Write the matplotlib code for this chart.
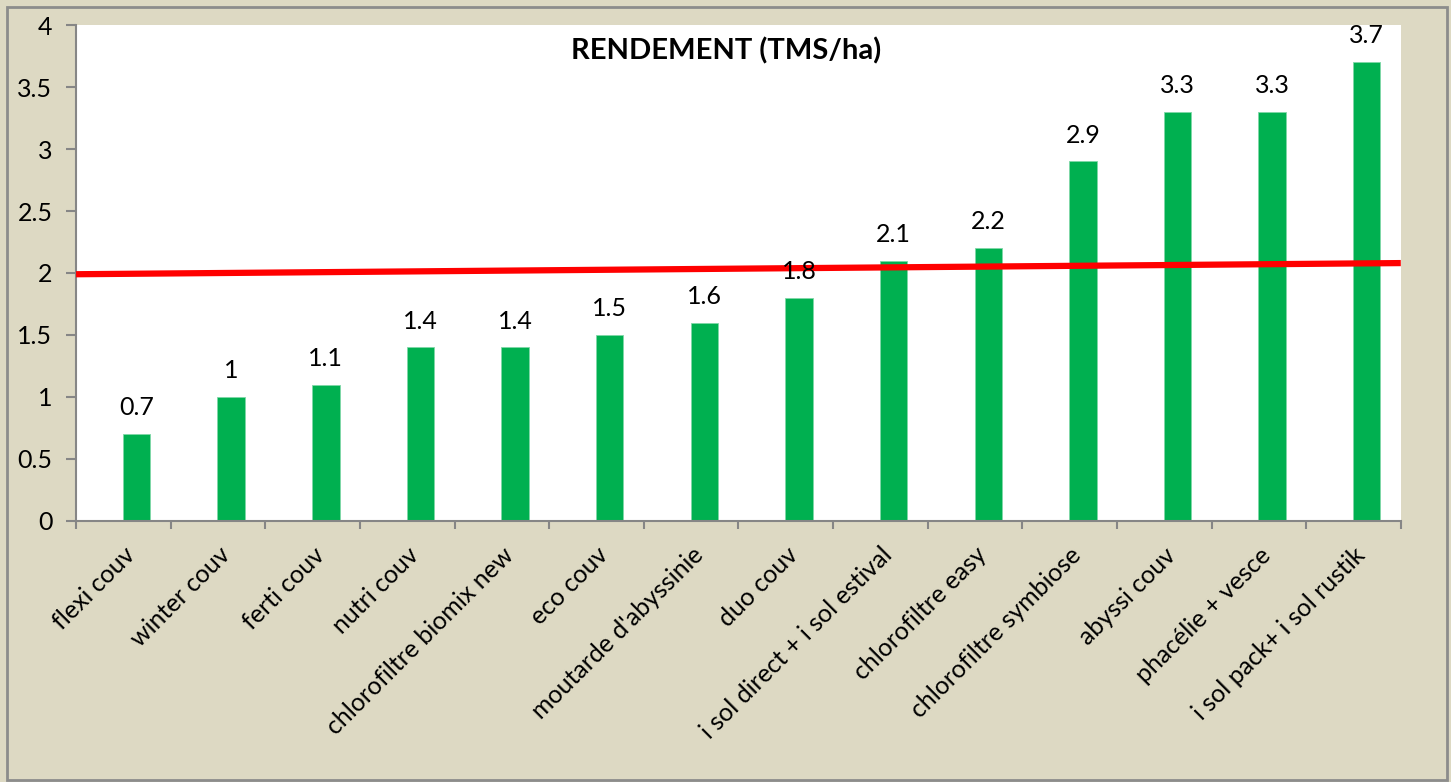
import numpy as np
import matplotlib.pyplot as plt
from matplotlib.patches import Rectangle

categories = ["flexi couv", "winter couv", "ferti couv", "nutri couv",
              "chlorofiltre biomix new", "eco couv", "moutarde d'abyssinie",
              "duo couv", "i sol direct + i sol estival", "chlorofiltre easy",
              "chlorofiltre symbiose", "abyssi couv", "phacélie + vesce",
              "i sol pack+ i sol rustik"]
rendement = [0.7, 1, 1.1, 1.4, 1.4, 1.5, 1.6, 1.8, 2.1, 2.2, 2.9, 3.3, 3.3, 3.7]
labels = ["0.7", "1", "1.1", "1.4", "1.4", "1.5", "1.6", "1.8", "2.1", "2.2",
          "2.9", "3.3", "3.3", "3.7"]
trend_ends = [1.99, 2.08]

plt.rcParams['font.family'] = ['Lato', 'DejaVu Sans']

beige = '#DDD9C3'
fs = 18
fig = plt.figure(figsize=(14.51, 7.82), dpi=100, facecolor=beige)
fig.patches.append(Rectangle((0.005, 0.003), 0.992, 0.988, transform=fig.transFigure,
                             fill=False, edgecolor='#8c8c8c', linewidth=2))
ax = fig.add_axes([0.0524, 0.3338, 0.913, 0.6342])
ax.set_facecolor('white')

n = len(categories)
x = np.arange(n)
# bars sit a bit right of the category centre (excel style)
ax.bar(x + 0.14, rendement, width=0.29, color='#00B050', edgecolor='#7fd8a8',
       linewidth=0.6, zorder=2)
for xi, v, t in zip(x + 0.14, rendement, labels):
    ax.text(xi, v + 0.12, t, ha='center', va='bottom', fontsize=fs, zorder=4)

ax.plot([-0.5, n - 0.5], trend_ends, color='#FF0000', linewidth=4.5, zorder=3,
        solid_capstyle='butt')

ax.set_xlim(-0.5, n - 0.5)
ax.set_ylim(0, 4)
ax.set_yticks(np.arange(0, 4.01, 0.5))
ax.set_yticklabels(["0", "0.5", "1", "1.5", "2", "2.5", "3", "3.5", "4"])
ax.set_xticks(x)
ax.set_xticklabels(categories, rotation=45, ha='right', rotation_mode='anchor')
ax.set_xticks(np.arange(-0.5, n, 1), minor=True)
ax.tick_params(axis='x', which='major', length=0, pad=16, labelsize=fs)
ax.tick_params(axis='x', which='minor', length=6, color='#868686', width=1.5)
ax.tick_params(axis='y', length=7, color='#868686', width=1.5, labelsize=fs, pad=10)

for side in ['top', 'right']:
    ax.spines[side].set_visible(False)
for side in ['left', 'bottom']:
    ax.spines[side].set_color('#868686')
    ax.spines[side].set_linewidth(1.5)

ax.text(0.491, 0.975, "RENDEMENT (TMS/ha)", transform=ax.transAxes, ha='center',
        va='top', fontsize=21, fontweight='bold')

fig.savefig('out.png', dpi=100, facecolor=beige)
